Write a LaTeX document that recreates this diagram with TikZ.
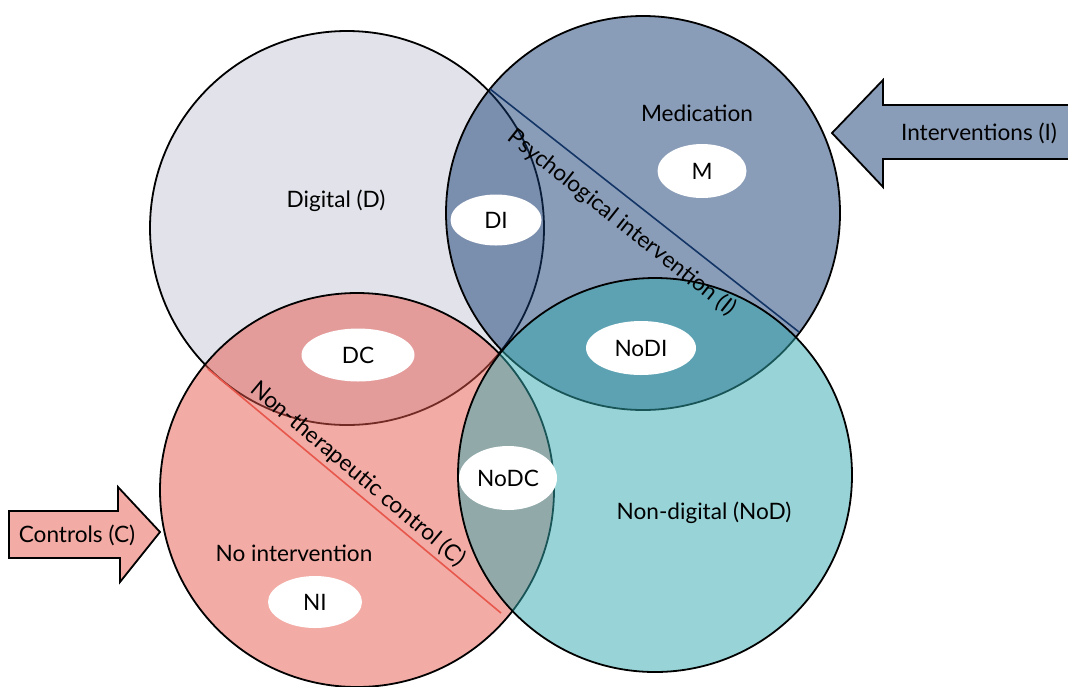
\documentclass[tikz,border=0pt]{standalone}
\usepackage{fontspec}
\setmainfont{Lato}
\usetikzlibrary{shapes.geometric}

\definecolor{dcol}{RGB}{195,197,213}
\definecolor{icol}{RGB}{21,59,113}
\definecolor{ccol}{RGB}{231,87,75}
\definecolor{nodcol}{RGB}{50,169,175}
\definecolor{iarrow}{RGB}{138,157,184}
\definecolor{carrow}{RGB}{243,171,165}

\begin{document}
\begin{tikzpicture}[x=0.5pt, y=-0.5pt, font=\fontsize{11.3}{13}\selectfont]
	% Define the styles
	\tikzstyle{set}=[draw=black, line width=0.9pt, fill opacity=0.5]
	\tikzstyle{tag}=[ellipse, fill=white, inner sep=0pt]
	\tikzstyle{pointer}=[draw=black, line width=0.9pt, line join=miter]
	
	\useasboundingbox (0,0) rectangle (1068,686);
	
	% Circle centres
	\coordinate (d) at (347,228); \coordinate (i) at (643,213);
	\coordinate (c) at (357,490); \coordinate (nod) at (655,475);
	
	% Draw the translucent circles
	\draw[set, fill=dcol] (d) circle[radius=197];
	\draw[set, fill=icol] (i) circle[radius=197];
	\coordinate (ptop) at (490,89); \coordinate (pend) at (799,332);
	\draw[line width=0.8pt, icol!90!black] (ptop) -- (pend);
	\draw[set, fill=ccol] (c) circle[radius=197];
	\draw[set, fill=nodcol] (nod) circle[radius=197];
	\coordinate (ctop) at (208,369); \coordinate (cend) at (501,613);
	\draw[line width=0.8pt, ccol] (ctop) -- (cend);
	
	% Arrows
	\filldraw[pointer, fill=iarrow] (832,133) -- (883,80) -- (883,105) -- (1072,105)
	-- (1072,159) -- (883,159) -- (883,187) -- cycle;
	\filldraw[pointer, fill=carrow] (9,511) -- (118,511) -- (118,487) -- (160,532)
	-- (120,582) -- (120,558) -- (9,558) -- cycle;
	\node (inter) at (979,133) {Interventions (I)};
	\node (ctrl) at (77,535) {Controls (C)};
	
	% Set labels
	\node (dlab) at (336,201) {Digital (D)}; \node (mlab) at (697,113) {Medication};
	\node (nodlab) at (704,513) {Non-digital (NoD)}; \node (nilab) at (294,553) {No intervention};
	\node (plab) at (622,223) [rotate=-38.5] {Psychological intervention (I)};
	\node (nclab) at (358,474) [rotate=-40] {Non-therapeutic control (C)};
	
	% White ellipses with the codes
	\node[tag, minimum width=45.5pt, minimum height=25.5pt] (di) at (496,220) {DI};
	\node[tag, minimum width=44.5pt, minimum height=27pt] (m) at (702,171) {M};
	\node[tag, minimum width=56.5pt, minimum height=26.5pt] (dc) at (358,355) {DC};
	\node[tag, minimum width=55pt, minimum height=27pt] (nodi) at (641,348) {NoDI};
	\node[tag, minimum width=49pt, minimum height=32pt] (nodc) at (508,478) {NoDC};
	\node[tag, minimum width=47pt, minimum height=26pt] (ni) at (315,602) {NI};
\end{tikzpicture}
\end{document}
